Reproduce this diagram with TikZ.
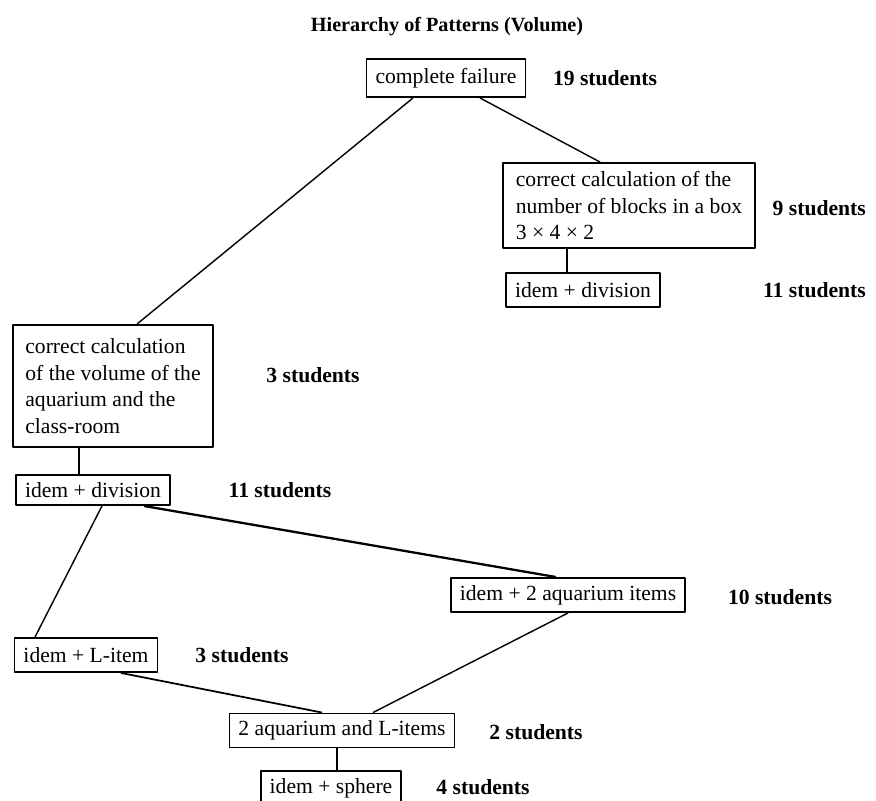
\documentclass[tikz,border=0pt]{standalone}
\usepackage{fontspec}
\setmainfont{Liberation Serif}
\usepackage{tikz}
\usetikzlibrary{calc}

\begin{document}
\begin{tikzpicture}[x=0.02cm,y=-0.02cm,line join=round,
    pbox/.style={draw,line width=1.1pt,inner xsep=0.18cm,inner ysep=2pt,minimum height=0.68cm,font=\fontsize{12.3}{15.2}\selectfont},
    tbox/.style={pbox,align=left},
    count/.style={font=\fontsize{12.3}{15}\selectfont\bfseries},
    link/.style={line width=0.8pt}]
  \useasboundingbox (0,0) rectangle (876,801);
  \node[font=\fontsize{11.5}{14}\selectfont\bfseries] (title) at (447,27) {Hierarchy of Patterns (Volume)};
  \node[pbox,minimum height=0.76cm] (F) at (446,78) {complete failure};
  \node[tbox,minimum width=5.04cm,minimum height=1.7cm] (B) at (629,205.5) {correct calculation of the\\number of blocks in a box\\3 × 4 × 2};
  \node[pbox] (BD) at (583,290) {idem + division};
  \node[tbox,minimum width=4cm,minimum height=2.44cm] (V) at (113,386) {correct calculation\\of the volume of the\\aquarium and the\\class-room};
  \node[pbox,minimum height=0.6cm] (VD) at (93,490) {idem + division};
  \node[pbox] (AQ) at (568,595) {idem + 2 aquarium items};
  \node[pbox] (LI) at (86,655) {idem + L-item};
  \node[pbox] (AL) at (342,730.5) {2 aquarium and L-items};
  \node[pbox] (SP) at (331,788) {idem + sphere};
  \node[count] (nF) at (605,78) {19 students};
  \node[count,anchor=east] (nB) at (872,208) {9 students};
  \node[count,anchor=east] (nBD) at (872,290) {11 students};
  \node[count] (nV) at (313,375) {3 students};
  \node[count] (nVD) at (280,490) {11 students};
  \node[count] (nAQ) at (780,597) {10 students};
  \node[count] (nLI) at (242,655) {3 students};
  \node[count] (nAL) at (536,732) {2 students};
  \node[count] (nSP) at (483,787) {4 students};
  \draw[link] ($(F.south)+(-33,0)$) -- ($(V.north)+(24,0)$);
  \draw[link] ($(F.south)+(34,0)$) -- ($(B.north)+(-29,0)$);
  \draw[link] ($(B.south)+(-62,0)$) -- ($(BD.north)+(-16,0)$);
  \draw[link] ($(V.south)+(-34,0)$) -- ($(VD.north)+(-14,0)$);
  \draw[link] ($(VD.south)+(9,0)$) -- ($(LI.north)+(-51,0)$);
  \draw[line width=1.3pt] ($(VD.south)+(51,0)$) -- ($(AQ.north)+(-12,0)$);
  \draw[link,line width=1pt] ($(LI.south)+(35,0)$) -- ($(AL.north)+(-20,0)$);
  \draw[link] (AQ.south) -- ($(AL.north)+(31,0)$);
  \draw[link] ($(AL.south)+(-5,0)$) -- ($(SP.north)+(6,0)$);
\end{tikzpicture}
\end{document}
